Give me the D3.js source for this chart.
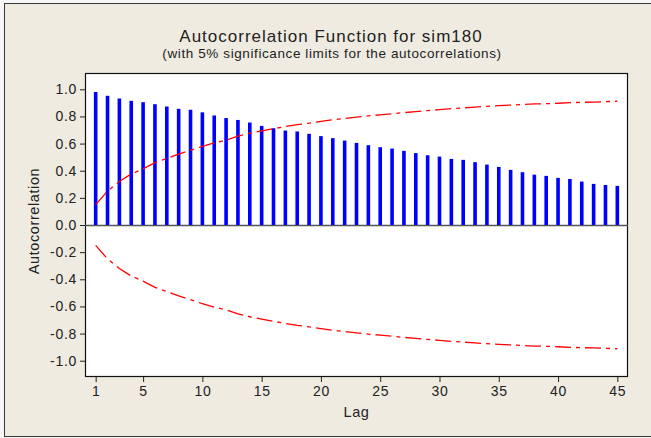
<!DOCTYPE html>
<html>
<head>
<meta charset="utf-8">
<script src="https://cdn.jsdelivr.net/npm/d3@7"></script>
<style>
  html, body { margin: 0; padding: 0; background: #f6f6f6; }
  svg { display: block; }
  text { font-family: "Liberation Sans", Arial, sans-serif; fill: #222; }
</style>
</head>
<body>
<svg id="chart" width="651" height="438"></svg>
<script>
// Sample autocorrelations of sim180, lags 1..45
const lags = d3.range(1, 46);
const acf = [
  0.980, 0.952, 0.932, 0.915, 0.905, 0.890, 0.873, 0.856, 0.849, 0.830,
  0.807, 0.788, 0.774, 0.755, 0.730, 0.713, 0.696, 0.689, 0.672, 0.655,
  0.640, 0.622, 0.605, 0.588, 0.573, 0.563, 0.546, 0.530, 0.514, 0.504,
  0.487, 0.480, 0.463, 0.445, 0.428, 0.406, 0.389, 0.371, 0.362, 0.347,
  0.339, 0.320, 0.303, 0.295, 0.288
];
// 5% significance limits (drawn as +limit and -limit)
const limit = [
  0.150, 0.250, 0.320, 0.376, 0.413, 0.459, 0.490, 0.523, 0.550, 0.580,
  0.605, 0.625, 0.654, 0.676, 0.693, 0.710, 0.725, 0.740, 0.750, 0.763,
  0.775, 0.785, 0.795, 0.804, 0.812, 0.820, 0.828, 0.835, 0.843, 0.850,
  0.857, 0.863, 0.869, 0.874, 0.879, 0.884, 0.888, 0.892, 0.894, 0.897,
  0.901, 0.904, 0.906, 0.909, 0.912
];
const xTicks = [1, 5, 10, 15, 20, 25, 30, 35, 40, 45];
const yTicks = [-1.0, -0.8, -0.6, -0.4, -0.2, 0.0, 0.2, 0.4, 0.6, 0.8, 1.0];

const title = "Autocorrelation Function for sim180";
const subtitle = "(with 5% significance limits for the autocorrelations)";

const svg = d3.select("#chart");

// window frame
svg.append("rect")
  .attr("x", 4.5).attr("y", 3.5).attr("width", 700).attr("height", 433)
  .attr("fill", "#efebe1").attr("stroke", "#3a3a3a").attr("stroke-width", 1);

const plot = { left: 85, right: 628, top: 73, bottom: 377 };

const x = d3.scaleLinear().domain([0.1, 45.9]).range([plot.left, plot.right]);
const y = d3.scaleLinear().domain([-1.12, 1.12]).range([plot.bottom, plot.top]);

// plot area
svg.append("rect")
  .attr("x", plot.left + 0.5).attr("y", plot.top + 0.5)
  .attr("width", plot.right - plot.left - 1).attr("height", plot.bottom - plot.top - 1)
  .attr("fill", "#ffffff").attr("stroke", "#111").attr("stroke-width", 1.2);

// zero reference line
svg.append("line")
  .attr("x1", plot.left).attr("x2", plot.right)
  .attr("y1", Math.round(y(0)) + 0.5).attr("y2", Math.round(y(0)) + 0.5)
  .attr("stroke", "#555").attr("stroke-width", 1.3);

// ACF bars
const barW = 3.6;
svg.append("g").selectAll("rect")
  .data(lags)
  .join("rect")
  .attr("x", d => x(d) - barW / 2)
  .attr("width", barW)
  .attr("y", (d, i) => y(acf[i]))
  .attr("height", (d, i) => y(0) - y(acf[i]))
  .attr("fill", "#0000ff");

// significance limits
const limLine = sign => d3.line()
  .x((d, i) => x(lags[i]))
  .y(d => y(sign * d));

[1, -1].forEach(s => {
  svg.append("path")
    .datum(limit)
    .attr("d", limLine(s))
    .attr("fill", "none")
    .attr("stroke", "#ff0000")
    .attr("stroke-width", 1.3)
    .attr("stroke-dasharray", "16,5,4,5");
});

// axes
const fmt = v => v.toFixed(1);
const yAxis = svg.append("g")
  .attr("transform", `translate(${plot.left},0)`)
  .call(d3.axisLeft(y).tickValues(yTicks).tickFormat(fmt).tickSize(5).tickPadding(3));
yAxis.select(".domain").remove();
yAxis.selectAll("line").attr("stroke", "#222");
yAxis.selectAll("text").attr("font-size", 14).attr("letter-spacing", 0.7).attr("fill", "#222")
  .attr("font-family", "Liberation Sans, Arial, sans-serif");

const xAxis = svg.append("g")
  .attr("transform", `translate(0,${plot.bottom})`)
  .call(d3.axisBottom(x).tickValues(xTicks).tickFormat(d3.format("d")).tickSize(5).tickPadding(4));
xAxis.select(".domain").remove();
xAxis.selectAll("line").attr("stroke", "#222");
xAxis.selectAll("text").attr("font-size", 14).attr("letter-spacing", 0.7).attr("fill", "#222")
  .attr("font-family", "Liberation Sans, Arial, sans-serif");

// titles
svg.append("text")
  .attr("x", 331).attr("y", 42)
  .attr("text-anchor", "middle")
  .attr("font-size", 17)
  .attr("letter-spacing", 1.0)
  .text(title);
svg.append("text")
  .attr("x", 332).attr("y", 58)
  .attr("text-anchor", "middle")
  .attr("font-size", 13.5)
  .attr("letter-spacing", 0.6)
  .text(subtitle);

// axis labels
svg.append("text")
  .attr("x", (plot.left + plot.right) / 2).attr("y", 417)
  .attr("text-anchor", "middle")
  .attr("font-size", 14.5)
  .attr("letter-spacing", 0.6)
  .text("Lag");
svg.append("text")
  .attr("transform", `translate(39,221) rotate(-90)`)
  .attr("text-anchor", "middle")
  .attr("font-size", 14.5)
  .attr("letter-spacing", 0.6)
  .text("Autocorrelation");
</script>
</body>
</html>
